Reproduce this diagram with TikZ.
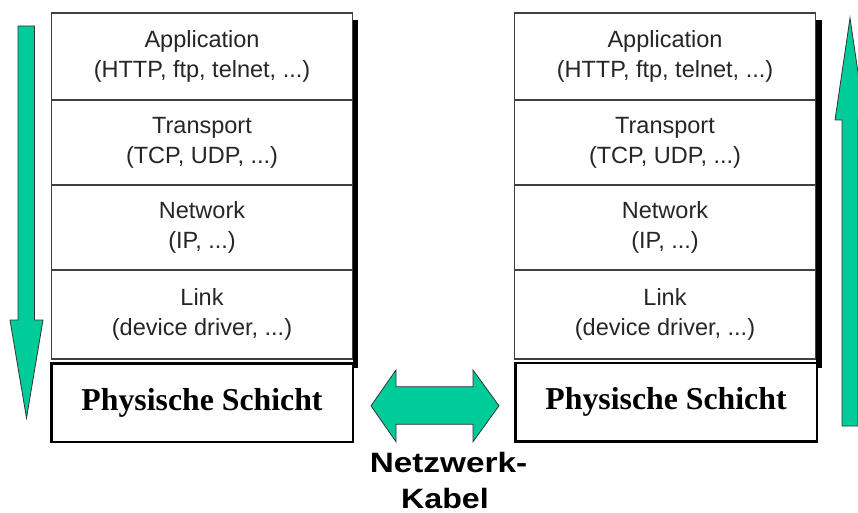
\documentclass[tikz,border=0pt]{standalone}
\usepackage{fontspec}
\setmainfont{Liberation Sans}
\newfontfamily\physfont{Liberation Serif}
\definecolor{arrowgreen}{RGB}{0,204,153}
\tikzset{
  layer/.style={draw=black!75, line width=1.2pt, minimum width=300.5pt, inner sep=0pt,
    align=center, font=\fontsize{23.5}{30}\selectfont, text=black!85},
  phys/.style={draw=black, line width=2.5pt, fill=white, minimum width=301.5pt,
    minimum height=78.5pt, inner sep=0pt, font=\physfont\bfseries\fontsize{31.8}{36}\selectfont},
  shadowbar/.style={fill=black},
  garrow/.style={fill=arrowgreen, draw=black!80, line width=0.8pt, line join=miter},
  cable/.style={anchor=base, inner sep=0pt, font=\bfseries\fontsize{28}{34}\selectfont}
}
\begin{document}
\begin{tikzpicture}[x=1pt,y=-1pt]
\useasboundingbox (0,0) rectangle (858,513);
\clip (0,0) rectangle (858,513);
\fill[white] (0,0) rectangle (858,513);

% shadows of the stacks
\fill[shadowbar] (352.5,20) rectangle (358,368);
\fill[shadowbar] (815.5,20) rectangle (822,368);

% left stack
\node[layer, minimum height=87pt] (la) at (202,56.5) {Application\\(HTTP, ftp, telnet, ...)};
\node[layer, minimum height=85pt] (lt) at (202,142.5) {Transport\\(TCP, UDP, ...)};
\node[layer, minimum height=85pt] (ln) at (202,227.5) {Network\\(IP, ...)};
\node[layer, minimum height=89pt] (ll) at (202,314.5) {Link\\(device driver, ...)};
\node[phys] (lp) at (202,402.5) {Physische Schicht};

% right stack
\node[layer, minimum height=87pt] (ra) at (665,56.5) {Application\\(HTTP, ftp, telnet, ...)};
\node[layer, minimum height=85pt] (rt) at (665,142.5) {Transport\\(TCP, UDP, ...)};
\node[layer, minimum height=85pt] (rn) at (665,227.5) {Network\\(IP, ...)};
\node[layer, minimum height=89pt] (rl) at (665,314.5) {Link\\(device driver, ...)};
\node[phys] (rp) at (666,402) {Physische Schicht};

% down arrow (sender)
\draw[garrow] (18,26) -- (34.5,26) -- (34.5,320) -- (43,320) -- (26.5,418) -- (10,320) -- (18,320) -- cycle;

% up arrow (receiver)
\draw[garrow] (842,426) -- (842,120) -- (835,120) -- (850,18) -- (865,120) -- (858,120) -- (858,426) -- cycle;

% double arrow (cable)
\draw[garrow] (371,405.8) -- (396,370) -- (396,386.7) -- (473,386.7) -- (473,370) -- (499,405.8)
  -- (473,441.7) -- (473,424.3) -- (396,424.3) -- (396,441.7) -- cycle;

\node[cable] (net) at (448.5,472) {\scalebox{1.19}[1]{Netzwerk-}};
\node[cable] (kab) at (445,508) {\scalebox{1.15}[1]{Kabel}};
\end{tikzpicture}
\end{document}
